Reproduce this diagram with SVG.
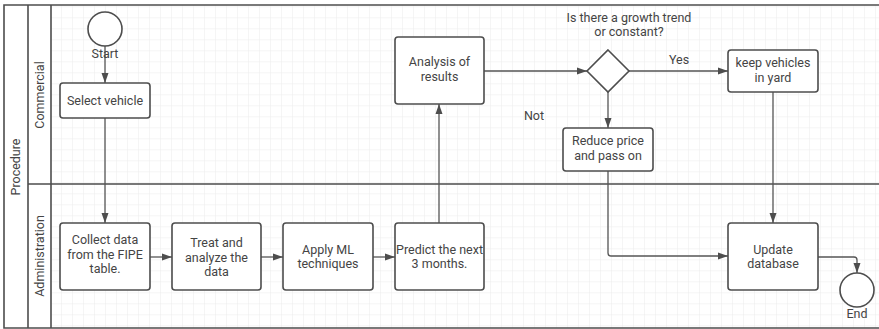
<svg xmlns="http://www.w3.org/2000/svg" width="879" height="329" viewBox="0 0 879 329">
<defs>
<pattern id="grid" x="51" y="7.3" width="11" height="11" patternUnits="userSpaceOnUse">
<path d="M11 0V11M0 11H11" fill="none" stroke="#ebebeb" stroke-width="1"/>
</pattern>
<marker id="arr" viewBox="0 0 10 10" refX="10" refY="5" markerWidth="10" markerHeight="10" markerUnits="userSpaceOnUse" orient="auto">
<path d="M0 1.5L10 5L0 8.5Z" fill="#4d4d4d"/>
</marker>
</defs>
<style>
.box{fill:#fff;stroke:#4d4d4d;stroke-width:1.6}
.ln{fill:none;stroke:#555;stroke-width:1.3}
.t{font-family:Roboto,"Liberation Sans",sans-serif;font-size:12.5px;fill:#444;text-anchor:middle}
.lane{stroke:#4d4d4d;stroke-width:1.6;fill:none}
</style>
<rect x="0" y="0" width="879" height="329" fill="#fff"/>
<rect x="51" y="5" width="830" height="323" fill="url(#grid)"/>
<g id="pool">
<path class="lane" d="M882 5H4V328H882"/>
<line class="lane" x1="28" y1="5" x2="28" y2="328"/>
<line class="lane" x1="51" y1="5" x2="51" y2="328"/>
<line class="lane" x1="28" y1="184" x2="882" y2="184"/>
<text class="t" transform="translate(20,167) rotate(-90)">Procedure</text>
<text class="t" transform="translate(43.5,95) rotate(-90)">Commercial</text>
<text class="t" transform="translate(43.5,256) rotate(-90)">Administration</text>
</g>
<g id="connectors">
<line class="ln" x1="105" y1="46" x2="105" y2="83" marker-end="url(#arr)"/>
<line class="ln" x1="105" y1="118" x2="105" y2="223" marker-end="url(#arr)"/>
<line class="ln" x1="150" y1="257" x2="172" y2="257" marker-end="url(#arr)"/>
<line class="ln" x1="261" y1="257" x2="283" y2="257" marker-end="url(#arr)"/>
<line class="ln" x1="373" y1="257" x2="395" y2="257" marker-end="url(#arr)"/>
<line class="ln" x1="439" y1="223" x2="439" y2="104" marker-end="url(#arr)"/>
<line class="ln" x1="484" y1="71" x2="587" y2="71" marker-end="url(#arr)"/>
<line class="ln" x1="629" y1="71" x2="728" y2="71" marker-end="url(#arr)"/>
<line class="ln" x1="608" y1="92" x2="608" y2="128" marker-end="url(#arr)"/>
<path class="ln" d="M608 171V253Q608 256 611 256H728" marker-end="url(#arr)"/>
<line class="ln" x1="773" y1="92" x2="773" y2="223" marker-end="url(#arr)"/>
<path class="ln" d="M818 257H854Q857 257 857 260V273" marker-end="url(#arr)"/>
<text class="t" x="679" y="64">Yes</text>
<text class="t" x="534" y="120">Not</text>
</g>
<g id="start">
<circle cx="105" cy="29" r="17" fill="#fff" stroke="#4d4d4d" stroke-width="1.6"/>
<text class="t" x="105" y="58">Start</text>
</g>
<g id="select">
<rect class="box" x="60" y="83" width="90" height="35" rx="3"/>
<text class="t" x="105" y="104.5">Select vehicle</text>
</g>
<g id="collect">
<rect class="box" x="60" y="223" width="90" height="67" rx="3"/>
<text class="t" x="105" y="244">Collect data</text>
<text class="t" x="105" y="258.5">from the FIPE</text>
<text class="t" x="105" y="273">table.</text>
</g>
<g id="treat">
<rect class="box" x="172" y="223" width="89" height="67" rx="3"/>
<text class="t" x="216.5" y="247">Treat and</text>
<text class="t" x="216.5" y="261.5">analyze the</text>
<text class="t" x="216.5" y="276">data</text>
</g>
<g id="apply">
<rect class="box" x="283" y="223" width="90" height="67" rx="3"/>
<text class="t" x="328" y="254">Apply ML</text>
<text class="t" x="328" y="268">techniques</text>
</g>
<g id="predict">
<rect class="box" x="395" y="223" width="89" height="67" rx="3"/>
<text class="t" x="439.5" y="254">Predict the next</text>
<text class="t" x="439.5" y="268">3 months.</text>
</g>
<g id="analysis">
<rect class="box" x="395" y="37" width="89" height="67" rx="3"/>
<text class="t" x="439.5" y="66">Analysis of</text>
<text class="t" x="439.5" y="81">results</text>
</g>
<g id="decision">
<path d="M608 50L629 71L608 92L587 71Z" fill="#fff" stroke="#4d4d4d" stroke-width="1.6"/>
<text class="t" x="629" y="22">Is there a growth trend</text>
<text class="t" x="629" y="36">or constant?</text>
</g>
<g id="keep">
<rect class="box" x="728" y="50" width="90" height="42" rx="3"/>
<text class="t" x="773" y="67">keep vehicles</text>
<text class="t" x="773" y="82">in yard</text>
</g>
<g id="reduce">
<rect class="box" x="563" y="128" width="90" height="43" rx="3"/>
<text class="t" x="608" y="145">Reduce price</text>
<text class="t" x="608" y="160">and pass on</text>
</g>
<g id="update">
<rect class="box" x="728" y="223" width="90" height="67" rx="3"/>
<text class="t" x="773" y="254">Update</text>
<text class="t" x="773" y="268">database</text>
</g>
<g id="end">
<circle cx="857" cy="290" r="17" fill="#fff" stroke="#4d4d4d" stroke-width="1.6"/>
<text class="t" x="857" y="318">End</text>
</g>
</svg>
